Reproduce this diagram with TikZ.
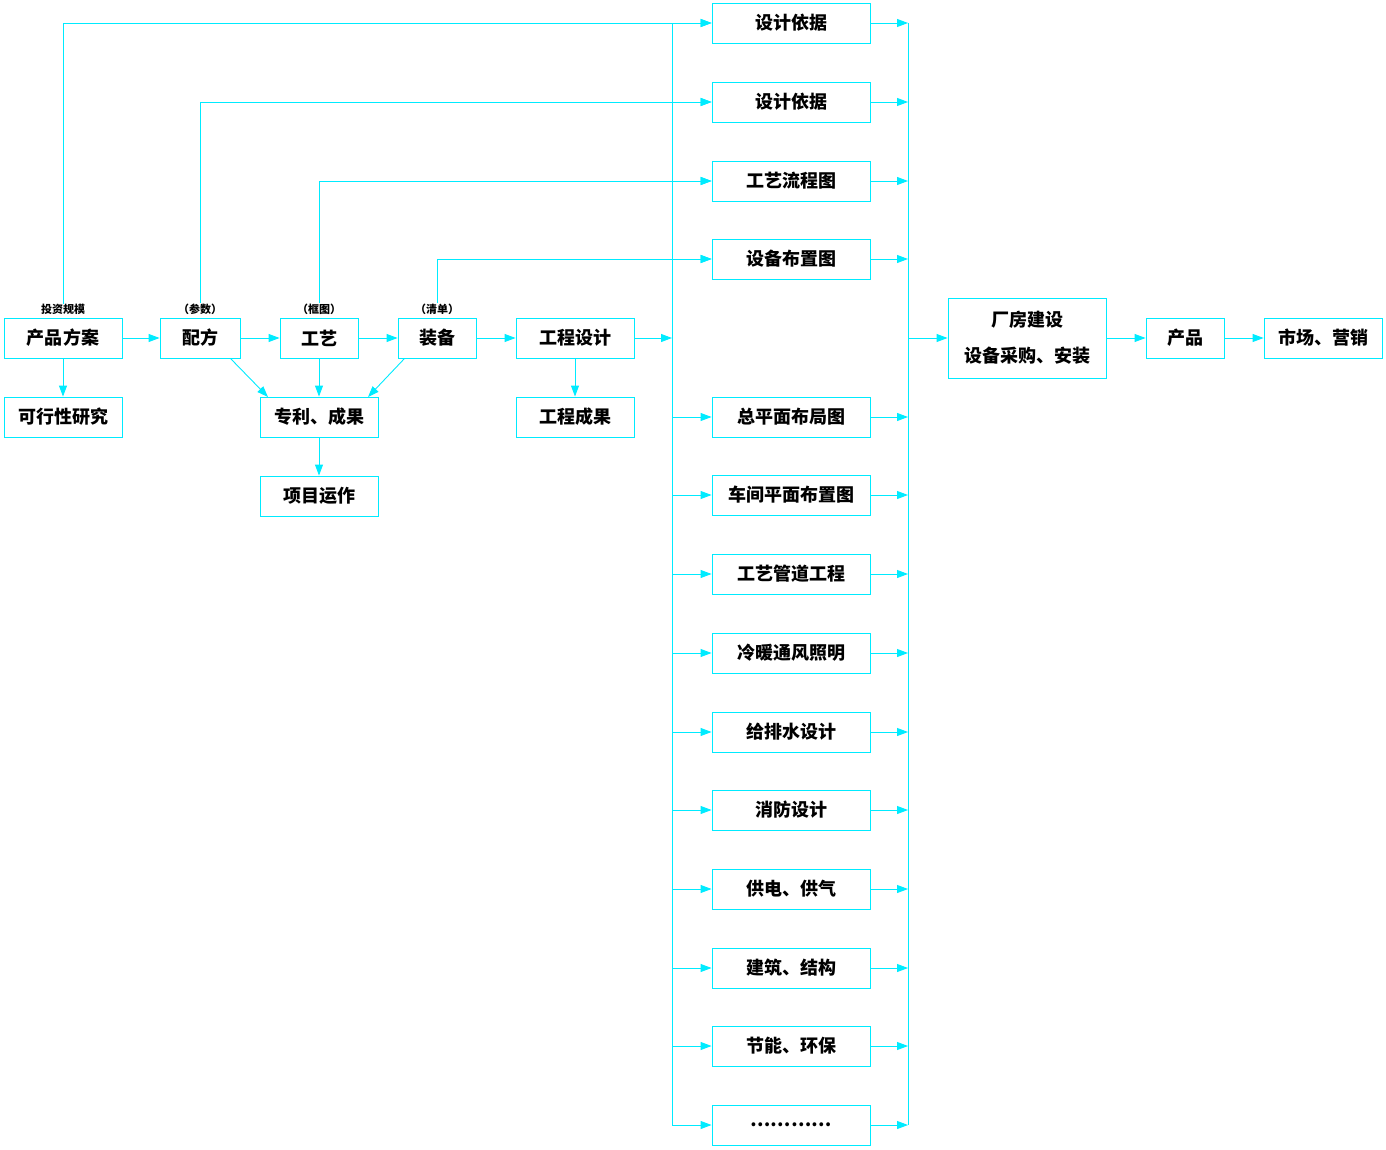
\documentclass[tikz,border=0pt]{standalone}
\usepackage{fontspec}
\newfontfamily\cjk{Noto Sans CJK SC Black}
\usetikzlibrary{arrows.meta}
\definecolor{ln}{RGB}{0,235,255}
\begin{document}
\begin{tikzpicture}[x=1pt,y=-1pt,
 bx/.style={draw=ln,line width=0.9pt,minimum height=40pt,inner sep=0pt,font=\cjk\fontsize{18}{20}\selectfont},
 lab/.style={font=\cjk\fontsize{11}{12}\selectfont,inner sep=0pt},
 ln/.style={draw=ln,line width=0.9pt},
 ar/.style={ln,-{Triangle[length=11pt,width=8pt]}}]
\useasboundingbox (0,0) rectangle (1386,1150);
\node[bx,minimum width=118pt] (a) at (63,338) {产品方案};
\node[bx,minimum width=80pt] (b) at (200,338) {配方};
\node[bx,minimum width=78pt] (c) at (319,338) {工艺};
\node[bx,minimum width=78pt] (d) at (437,338) {装备};
\node[bx,minimum width=118pt] (e) at (575,338) {工程设计};
\node[bx,minimum width=118pt] (f) at (63,417) {可行性研究};
\node[bx,minimum width=118pt] (g) at (319,417) {专利、成果};
\node[bx,minimum width=118pt] (h) at (319,496) {项目运作};
\node[bx,minimum width=118pt] (i) at (575,417) {工程成果};
\node[lab] (la) at (63,309) {投资规模};
\node[lab] (lb) at (200,309) {（参数）};
\node[lab] (lc) at (319,309) {（框图）};
\node[lab] (ld) at (437,309) {（清单）};
\node[bx,minimum width=158pt,minimum height=80pt,align=center] (m) at (1027,338) {厂房建设\\[16pt]设备采购、安装};
\node[bx,minimum width=78pt] (p) at (1185,338) {产品};
\node[bx,minimum width=118pt] (q) at (1323,338) {市场、营销};
\foreach \n/\y/\t in {1/23/设计依据,2/102/设计依据,3/181/工艺流程图,4/259/设备布置图,5/417/总平面布局图,6/495/车间平面布置图,7/574/工艺管道工程,8/653/冷暖通风照明,9/732/给排水设计,10/810/消防设计,11/889/供电、供气,12/968/建筑、结构,13/1046/节能、环保,14/1125/…………}{
 \node[bx,minimum width=158pt] (r\n) at (791,\y) {\t};
 \coordinate (L\n) at (672,\y);
 \coordinate (R\n) at (908,\y);
 \draw[ar] (L\n) -- (r\n);
 \draw[ar] (r\n) -- (R\n);
}
\draw[ln] (L1) -- (L14);
\draw[ln] (R1) -- (R14);
\coordinate (E) at (672,338);
\coordinate (M) at (908,338);
\draw[ar] (e) -- (E);
\draw[ar] (M) -- (m);
\draw[ar] (m) -- (p);
\draw[ar] (p) -- (q);
\draw[ar] (a) -- (b);
\draw[ar] (b) -- (c);
\draw[ar] (c) -- (d);
\draw[ar] (d) -- (e);
\draw[ar] (a) -- (f);
\draw[ar] (c) -- (g);
\draw[ar] (g) -- (h);
\draw[ar] (e) -- (i);
\draw[ar] (b.south east)++(-10,0) -- (268,397);
\draw[ar] (d.south west)++(7,0) -- (368,397);
\draw[ar] (la.north) |- (r1.west);
\draw[ar] (lb.north) |- (r2.west);
\draw[ar] (lc.north) |- (r3.west);
\draw[ar] (ld.north) |- (r4.west);
\end{tikzpicture}
\end{document}
